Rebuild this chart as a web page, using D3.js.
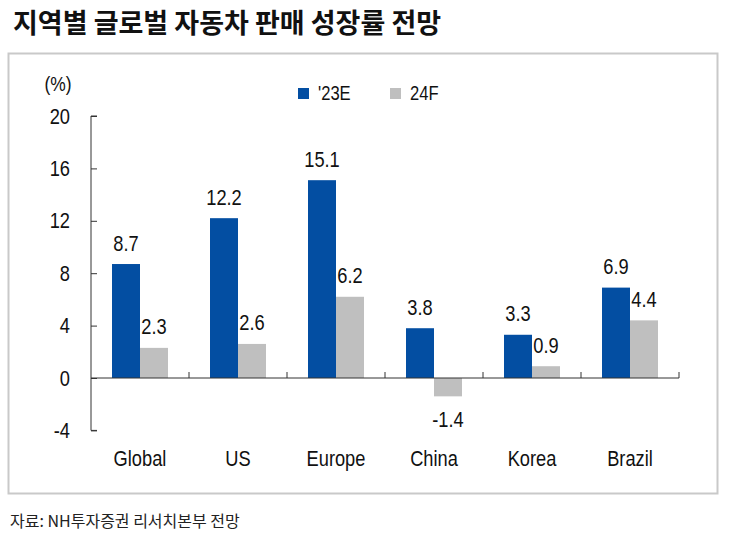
<!DOCTYPE html>
<html><head><meta charset="utf-8">
<script src="https://cdn.jsdelivr.net/npm/d3@7"></script>
<style>body{margin:0;background:#fff;} svg{display:block;}</style>
</head><body>
<svg id="c" width="730" height="556"></svg>
<script>
const categories = ["Global","US","Europe","China","Korea","Brazil"];
const seriesNames = ["'23E","24F"];
const s23E = [8.7,12.2,15.1,3.8,3.3,6.9];
const s24F = [2.3,2.6,6.2,-1.4,0.9,4.4];
const yTicks = [-4,0,4,8,12,16,20];
const colors = ["#034EA2","#BFBFBF"];

const svg = d3.select("#c");
const font = "'Liberation Sans', Arial, sans-serif";
const kfont = "'Noto Sans CJK KR', sans-serif";
const SX = 0.83;

function ltext(sel, size){
  return sel.attr("font-family",font).attr("font-size",size).attr("fill","#111");
}
function place(sel, fx, fy){
  return sel.attr("transform",(d,i)=>`translate(${fx(d,i)},${fy(d,i)}) scale(${SX},1)`);
}

svg.append("text").attr("x",13).attr("y",33).attr("font-family",kfont).attr("font-weight","bold")
  .attr("font-size",27).attr("fill","#111").text("지역별 글로벌 자동차 판매 성장률 전망");

svg.append("rect").attr("x",8.5).attr("y",53.5).attr("width",709).attr("height",440)
  .attr("fill","none").attr("stroke","#c9c9c9").attr("stroke-width",2);

const x0 = d3.scaleBand().domain(categories).range([91,679]).paddingInner(0).paddingOuter(0);
const y = d3.scaleLinear().domain([-4,20]).range([430.4,116]);
const x1 = d3.scaleBand().domain(seriesNames).range([0,56]);
const groupOff = (x0.bandwidth()-56)/2;

// y axis
const yAxis = d3.axisRight(y).tickValues(yTicks).tickSize(6).tickFormat("");
const ga = svg.append("g").attr("transform","translate(91,0)").call(yAxis);
ga.select(".domain").attr("stroke","#333").attr("d",`M6,${y(20)}H0V${y(-4)}H6`);
ga.selectAll(".tick line").attr("stroke","#333");
place(ltext(svg.selectAll(".ytl").data(yTicks).join("text").attr("class","ytl"),22)
  .attr("text-anchor","end").text(d=>d), d=>70, d=>y(d)+7.5);

place(ltext(svg.append("text").datum(0),21).attr("text-anchor","middle").text("(%)"), ()=>58, ()=>91);

// bars
const data = categories.map((c,i)=>({c, vals:[s23E[i],s24F[i]]}));
const g = svg.selectAll(".grp").data(data).join("g").attr("class","grp")
  .attr("transform",d=>`translate(${x0(d.c)+groupOff},0)`);
g.selectAll("rect").data(d=>d.vals.map((v,j)=>({v,j}))).join("rect")
  .attr("x",d=>x1(seriesNames[d.j])).attr("width",x1.bandwidth())
  .attr("y",d=>y(Math.max(0,d.v))).attr("height",d=>Math.abs(y(d.v)-y(0)))
  .attr("fill",d=>colors[d.j]);
place(ltext(g.selectAll("text").data(d=>d.vals.map((v,j)=>({v,j}))).join("text"),22)
  .attr("text-anchor","middle").text(d=>d.v.toFixed(1)),
  d=>x1(seriesNames[d.j])+x1.bandwidth()/2,
  d=>d.v>=0? y(d.v)-13.5 : y(d.v)+30.5);

// x axis (zero line)
const xAxis = d3.axisTop(x0).tickSize(0).tickFormat("");
const gx = svg.append("g").attr("transform",`translate(0,${y(0)})`).call(xAxis);
gx.select(".domain").attr("stroke","#333").attr("d",`M91,0H679`);
svg.selectAll(".xt").data(categories).join("line").attr("class","xt")
  .attr("x1",d=>x0(d)+x0.bandwidth()).attr("x2",d=>x0(d)+x0.bandwidth())
  .attr("y1",y(0)).attr("y2",y(0)-6).attr("stroke","#333");
place(ltext(svg.selectAll(".xl").data(categories).join("text").attr("class","xl"),22)
  .attr("text-anchor","middle").text(d=>d), d=>x0(d)+x0.bandwidth()/2, d=>466);

// legend
const lx = [298,390];
seriesNames.forEach((s,i)=>{
  svg.append("rect").attr("x",lx[i]).attr("y",88).attr("width",11).attr("height",11).attr("fill",colors[i]);
  place(ltext(svg.append("text").datum(s),20).text(s), ()=>lx[i]+20, ()=>99.5);
});

svg.append("text").attr("x",10).attr("y",527).attr("font-family",kfont).attr("font-size",16).attr("fill","#222")
  .text("자료: NH투자증권 리서치본부 전망");
</script>
</body></html>
